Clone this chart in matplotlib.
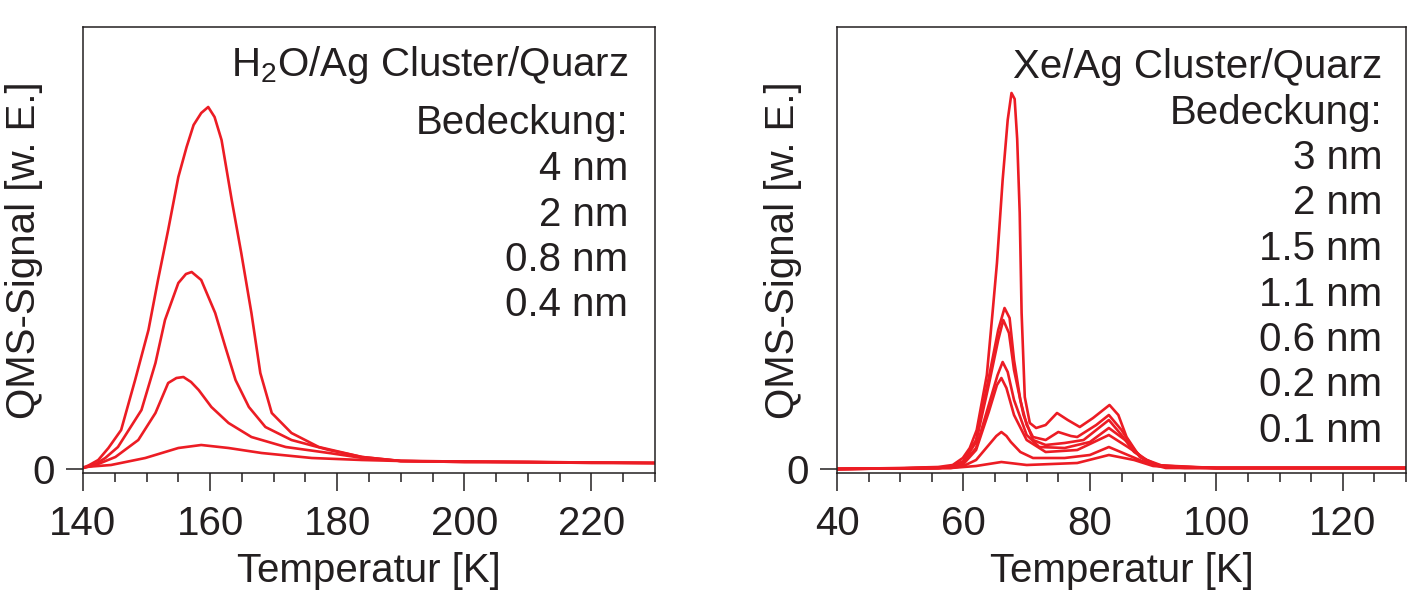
import matplotlib
matplotlib.use("Agg")
from matplotlib import pyplot as plt
from matplotlib.ticker import MultipleLocator, FixedLocator

plt.rcParams['font.family'] = ['Liberation Sans', 'DejaVu Sans']
plt.rcParams['mathtext.default'] = 'regular'

red = "#ec1c24"
ink = "#231f20"

# H2O / Ag Cluster / Quarz  (Temperatur [K], Signal [w. E.])
h2o_labels = ["4 nm", "2 nm", "0.8 nm", "0.4 nm"]
h2o_T_4 = [140, 141, 142.4, 144, 146.0, 148.2, 150.3, 151.8, 153.4, 155.0, 156.3, 157.4, 158.6,
           159.7, 160.7, 161.8, 163.4, 164.9, 166.5, 167.9, 169.7, 172.8, 177.1, 183.9, 190, 200,
           210, 220, 230]
h2o_S_4 = [1, 4, 9, 21, 39, 89, 139, 189, 239, 292, 322, 344, 356,
           362, 352, 329, 269, 216, 156, 96, 56, 36, 22, 12, 8, 7,
           7, 6, 6]
h2o_T_2 = [140, 142, 143.5, 145.5, 149.2, 151.4, 152.9, 155.0, 156.2, 157.1, 158.6, 160.8, 162.4,
           164.0, 166.1, 168.7, 172.8, 178.7, 183.9, 190, 200, 230]
h2o_S_2 = [1, 5, 11, 22, 59, 106, 149, 186, 195, 197, 189, 156, 122,
           89, 62, 42, 29, 19, 12, 8, 7, 6]
h2o_T_08 = [140, 142, 145.1, 148.7, 151.4, 153.4, 154.7, 155.8, 157.0, 158.2, 160.2, 162.9, 166.5,
            171.9, 178.7, 184, 190, 230]
h2o_S_08 = [1, 4, 12, 29, 56, 86, 91, 92, 87, 79, 62, 46, 32,
            22, 16, 11, 8, 6]
h2o_T_04 = [140.3, 144.4, 149.8, 155.0, 158.6, 162.9, 168.1, 176.0, 183.9, 190, 230]
h2o_S_04 = [2, 4, 11, 21, 24, 21, 16, 11, 9, 8, 6]

# Xe / Ag Cluster / Quarz
xe_labels = ["3 nm", "2 nm", "1.5 nm", "1.1 nm", "0.6 nm", "0.2 nm", "0.1 nm"]
xe_T_3 = [40, 50, 56, 58.3, 59.9, 61, 62.1, 63.7, 64.6, 65.3, 66.2, 67.0, 67.6, 68.1, 68.5, 68.9,
          69.2, 69.7, 70.5, 71.5, 73, 74.8, 76.5, 78.4, 80.5, 83.1, 84.5, 85.8, 87.9, 90.5, 95, 100,
          110, 120, 130]
xe_S_3 = [0, 1, 2, 4, 11, 21, 39, 94, 156, 206, 289, 349, 376, 370, 330, 256,
          156, 72, 46, 41, 44, 56, 49, 42, 51, 64, 54, 32, 12, 4, 2, 1,
          1, 1, 1]
xe_T_2 = [40, 56, 58, 60, 62, 64, 65.5, 66.5, 67.3, 68, 69, 70, 71, 73, 75, 77, 78, 81, 83, 85, 87,
          89, 92, 100, 130]
xe_S_2 = [0, 1, 2, 8, 29, 91, 139, 161, 151, 109, 69, 44, 32, 29, 37, 33, 32, 44, 54, 39, 19,
          7, 2, 1, 1]
xe_T_15 = [40, 56, 58, 60, 62, 64, 65.5, 66.3, 67.2, 68, 69.5, 71, 73, 76, 79, 83, 85, 87, 90, 100, 130]
xe_S_15 = [0, 1, 2, 7, 27, 84, 129, 149, 136, 99, 54, 29, 24, 26, 29, 49, 34, 17, 4, 1, 1]
xe_T_11 = [40, 56, 58, 60, 62, 64, 65.4, 66.2, 67.0, 68, 70, 72, 76, 80, 83, 86, 88, 91, 100, 130]
xe_S_11 = [0, 1, 2, 6, 21, 64, 94, 107, 97, 69, 34, 22, 21, 27, 41, 27, 12, 3, 1, 1]
xe_T_06 = [40, 56, 58, 60, 62, 64, 65.3, 66.0, 66.8, 68, 70, 73, 78, 83, 86, 89, 92, 100, 130]
xe_S_06 = [0, 1, 2, 5, 19, 57, 84, 91, 81, 54, 29, 17, 19, 34, 22, 9, 2, 1, 1]
xe_T_02 = [40, 56, 58, 60, 62, 64, 65.2, 66.0, 66.8, 67.5, 69, 71, 76, 80, 83, 86, 89, 92, 100, 130]
xe_S_02 = [0, 1, 1, 3, 9, 24, 33, 37, 33, 27, 17, 11, 11, 14, 22, 14, 6, 1, 1, 1]
xe_T_01 = [40, 58, 62, 66, 70, 78, 83, 87, 90, 95, 130]
xe_S_01 = [0, 1, 3, 7, 4, 6, 14, 9, 3, 1, 1]

h2o_curves = [(h2o_T_4, h2o_S_4), (h2o_T_2, h2o_S_2), (h2o_T_08, h2o_S_08), (h2o_T_04, h2o_S_04)]
xe_curves = [(xe_T_3, xe_S_3), (xe_T_2, xe_S_2), (xe_T_15, xe_S_15), (xe_T_11, xe_S_11),
             (xe_T_06, xe_S_06), (xe_T_02, xe_S_02), (xe_T_01, xe_S_01)]

W, H = 1411, 593
fig = plt.figure(figsize=(W / 100, H / 100), dpi=100)

def px_axes(x0, x1, ytop, ybot):
    return fig.add_axes([x0 / W, 1 - ybot / H, (x1 - x0) / W, (ybot - ytop) / H])

ax1 = px_axes(83, 655, 27, 473)
ax2 = px_axes(837, 1406, 27, 473)

fs = 29

def style(ax, xlim, majors):
    ax.set_xlim(*xlim)
    ax.set_ylim(-4, 442)
    ax.xaxis.set_major_locator(FixedLocator(majors))
    ax.xaxis.set_minor_locator(MultipleLocator(5))
    ax.yaxis.set_major_locator(FixedLocator([0]))
    ax.tick_params(axis='x', which='major', direction='out', length=13, width=1.1,
                   color=ink, labelsize=fs, labelcolor=ink, pad=10)
    ax.tick_params(axis='x', which='minor', direction='out', length=6.5, width=1.1, color=ink)
    ax.tick_params(axis='y', direction='out', length=12, width=1.1, color=ink,
                   labelsize=fs, labelcolor=ink, pad=8)
    for s in ax.spines.values():
        s.set_color(ink)
        s.set_linewidth(1.1)
    ax.set_xlabel("Temperatur [K]", fontsize=fs, color=ink)
    ax.set_ylabel("QMS-Signal [w. E.]", fontsize=fs, color=ink)
    ax.xaxis.set_label_coords(0.5, -0.178)

style(ax1, (140, 230), [140, 160, 180, 200, 220])
style(ax2, (40, 130), [40, 60, 80, 100, 120])
ax1.yaxis.set_label_coords(-0.07, 0.5)
ax2.yaxis.set_label_coords(-0.062, 0.5)

for T, S in h2o_curves:
    ax1.plot(T, S, color=red, lw=1.9, solid_joinstyle='round')
for T, S in xe_curves:
    ax2.plot(T, S, color=red, lw=1.9, solid_joinstyle='round')

def ybase(ypix):
    return (473 - ypix) / 446

ax1.text(0.953, ybase(76), r"H$_2$O/Ag Cluster/Quarz", transform=ax1.transAxes,
         ha='right', va='baseline', fontsize=fs, color=ink)
lines1 = ["Bedeckung:"] + h2o_labels
for i, t in enumerate(lines1):
    ax1.text(0.953, ybase(134.5 + 45.5 * i), t, transform=ax1.transAxes,
             ha='right', va='baseline', fontsize=fs, color=ink)

lines2 = ["Xe/Ag Cluster/Quarz", "Bedeckung:"] + xe_labels
for i, t in enumerate(lines2):
    ax2.text(0.958, ybase(78 + 45.5 * i), t, transform=ax2.transAxes,
             ha='right', va='baseline', fontsize=fs, color=ink)

fig.savefig("out.png", dpi=100)
